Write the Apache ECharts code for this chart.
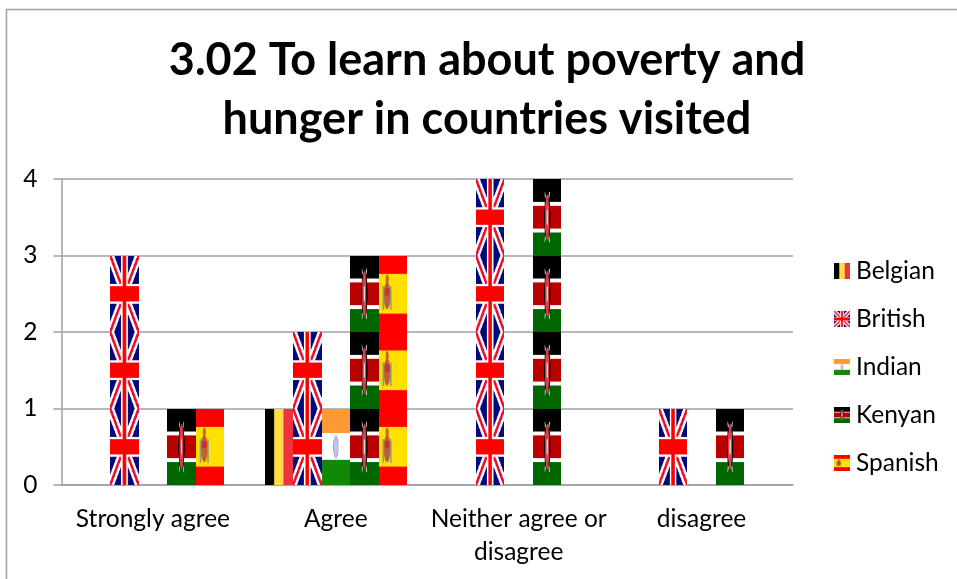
<!DOCTYPE html>
<html><head><meta charset="utf-8">
<style>html,body{margin:0;padding:0;background:#fff}#c{width:957px;height:579px}</style>
<script src="https://cdn.jsdelivr.net/npm/echarts@6/dist/echarts.min.js"></script>
</head><body><div id="c"></div>
<script>
const categories = ['Strongly agree','Agree','Neither agree or disagree','disagree'];
const belgian = [0,1,0,0];
const british = [3,2,4,1];
const indian  = [0,1,0,0];
const kenyan  = [1,3,4,1];
const spanish = [1,3,0,0];
const yTicks = [0,1,2,3,4];

const FONT = 'Lato, "Open Sans", sans-serif';

function belgianFlag(c,w,h){
  c.fillStyle='#000';c.fillRect(0,0,w/3,h);
  c.fillStyle='#fddc44';c.fillRect(w/3,0,w/3,h);
  c.fillStyle='#ef3340';c.fillRect(2*w/3,0,w/3+1,h);
}
function britishFlag(c,w,h){
  c.fillStyle='#000a7a';c.fillRect(0,0,w,h);
  const l=(x1,y1,x2,y2,col,lw)=>{c.strokeStyle=col;c.lineWidth=lw;c.beginPath();c.moveTo(x1,y1);c.lineTo(x2,y2);c.stroke();};
  const d=w*0.26, r=w*0.09;
  l(0,0,w,h,'#fff',d);l(w,0,0,h,'#fff',d);
  l(0,0,w,h,'#e8112d',r);l(w,0,0,h,'#e8112d',r);
  c.fillStyle='#fff';c.fillRect(w*0.38,0,w*0.24,h);c.fillRect(0,h*0.37,w,h*0.26);
  c.fillStyle='#ff0000';c.fillRect(w*0.44,0,w*0.12,h);c.fillRect(0,h*0.4,w,h*0.2);
}
function indianFlag(c,w,h){
  c.fillStyle='#ff9933';c.fillRect(0,0,w,h*0.32);
  c.fillStyle='#fff';c.fillRect(0,h*0.32,w,h*0.35);
  c.fillStyle='#138808';c.fillRect(0,h*0.67,w,h*0.33);
  c.strokeStyle='#9a9ad8';c.fillStyle='#c4c4ea';c.lineWidth=Math.max(0.6,w*0.025);
  c.beginPath();c.ellipse(w/2,h/2,w*0.08,h*0.145,0,0,7);c.fill();c.stroke();
}
function kenyanFlag(c,w,h){
  c.fillStyle='#000';c.fillRect(0,0,w,h*0.3);
  c.fillStyle='#fff';c.fillRect(0,h*0.3,w,h*0.05);
  c.fillStyle='#bb0000';c.fillRect(0,h*0.35,w,h*0.3);
  c.fillStyle='#fff';c.fillRect(0,h*0.65,w,h*0.05);
  c.fillStyle='#006600';c.fillRect(0,h*0.7,w,h*0.3);
  // crossed spears and shield
  c.strokeStyle='#c8c8c8';c.lineWidth=Math.max(0.5,w*0.03);
  c.beginPath();c.moveTo(w*0.42,h*0.17);c.lineTo(w*0.58,h*0.83);c.moveTo(w*0.58,h*0.17);c.lineTo(w*0.42,h*0.83);c.stroke();
  c.fillStyle='#000';c.beginPath();c.ellipse(w/2,h/2,w*0.11,h*0.3,0,0,7);c.fill();
  c.fillStyle='#d8404a';c.beginPath();c.ellipse(w/2,h/2,w*0.075,h*0.3,0,0,7);c.fill();
  c.fillStyle='#f3d0d0';c.beginPath();c.ellipse(w/2,h/2,w*0.025,h*0.11,0,0,7);c.fill();
}
function spanishFlag(c,w,h){
  c.fillStyle='#ff0000';c.fillRect(0,0,w,h);
  c.fillStyle='#ffe000';c.fillRect(0,h*0.24,w,h*0.52);
  const x=w*0.3;
  c.fillStyle='#8f9a8a';c.fillRect(x-w*0.16,h*0.4,w*0.06,h*0.31);c.fillRect(x+w*0.1,h*0.4,w*0.06,h*0.31);
  c.fillStyle='#c96a2a';c.beginPath();c.ellipse(x,h*0.31,w*0.06,h*0.06,0,0,7);c.fill();
  c.fillStyle='#c0602a';c.beginPath();c.ellipse(x,h*0.52,w*0.11,h*0.18,0,0,7);c.fill();
  c.fillStyle='#cc3322';c.fillRect(x-w*0.08,h*0.42,w*0.16,h*0.1);
}
function flagURL(draw,w,h){
  const s=3, cv=document.createElement('canvas');
  cv.width=w*s;cv.height=h*s;
  draw(cv.getContext('2d'),w*s,h*s);
  return 'image://'+cv.toDataURL('image/png');
}
const UNIT=76.5, BARW=28.5;
const flags=[
  {name:'Belgian',data:belgian,draw:belgianFlag},
  {name:'British',data:british,draw:britishFlag},
  {name:'Indian',data:indian,draw:indianFlag},
  {name:'Kenyan',data:kenyan,draw:kenyanFlag},
  {name:'Spanish',data:spanish,draw:spanishFlag}
];
const chart=echarts.init(document.getElementById('c'),null,{renderer:'canvas'});
chart.setOption({
  animation:false,
  backgroundColor:'#fff',
  title:{
    text:'3.02 To learn about poverty and\nhunger in countries visited',
    left:482,top:26,textAlign:'center',
    textStyle:{fontFamily:FONT,fontSize:45,fontWeight:'bold',color:'#000',lineHeight:59}
  },
  graphic:[{type:'polyline',silent:true,shape:{points:[[6.5,579],[6.5,9.5],[957,9.5]]},style:{fill:null,stroke:'#a0a0a0',lineWidth:1.5}}],
  legend:{
    orient:'vertical',left:829,top:253,itemWidth:16,itemHeight:16,itemGap:22,
    textStyle:{fontFamily:FONT,fontSize:24.5,color:'#000',padding:[0,0,0,1],height:26,lineHeight:26},
    data:flags.map(f=>({name:f.name,icon:flagURL(f.draw,16,16)}))
  },
  grid:{left:61.5,right:164,top:179,bottom:94,containLabel:false},
  xAxis:{
    type:'category',data:categories,
    axisLine:{lineStyle:{color:'#a0a0a0',width:1.5}},
    axisTick:{length:8,lineStyle:{color:'#a0a0a0',width:1.5}},
    axisLabel:{fontFamily:FONT,fontSize:24.5,color:'#000',margin:18,lineHeight:33,interval:0,
      formatter:v=>v.replace(' or ',' or\n')}
  },
  yAxis:{
    type:'value',min:0,max:4,interval:1,
    axisLine:{show:true,lineStyle:{color:'#a0a0a0',width:1.5}},
    axisTick:{show:true,length:8,lineStyle:{color:'#a0a0a0',width:1.5}},
    splitLine:{lineStyle:{color:'#a0a0a0',width:1.5}},
    axisLabel:{fontFamily:FONT,fontSize:24.5,color:'#000',margin:24,formatter:v=>yTicks.includes(v)?String(v):''}
  },
  series:flags.map(f=>({
    type:'pictorialBar',name:f.name,data:f.data,
    symbol:flagURL(f.draw,29,77),
    symbolRepeat:true,symbolMargin:0,symbolSize:[BARW,UNIT],symbolPosition:'start',
    barWidth:BARW,barGap:'0%',z:3
  }))
});
</script></body></html>
